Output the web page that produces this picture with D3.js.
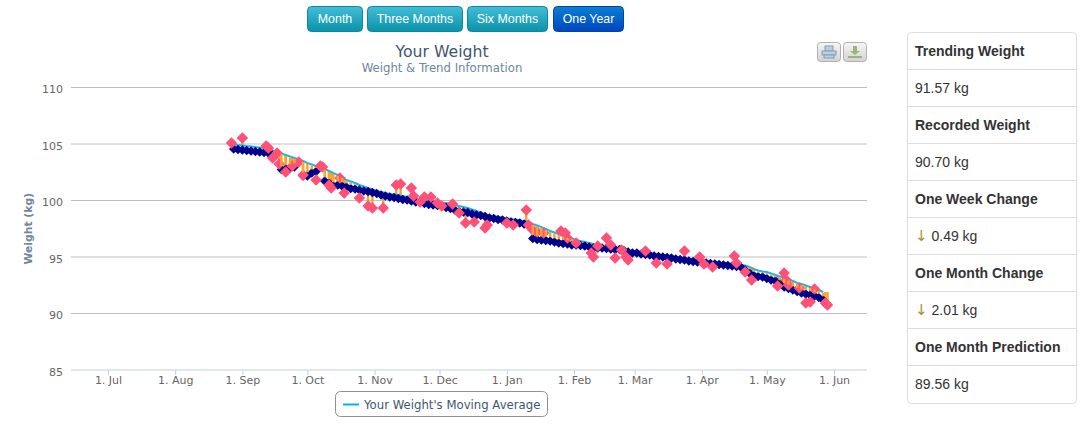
<!DOCTYPE html>
<html>
<head>
<meta charset="utf-8">
<script src="https://cdn.jsdelivr.net/npm/d3@7"></script>
<style>
    html, body { margin: 0; padding: 0; background: #fff; overflow: hidden; }
    svg { display: block; }
    .tick-text { font-family: "DejaVu Sans", sans-serif; font-size: 11px; fill: #666; }
    .panel-text { font-family: "Liberation Sans", sans-serif; font-size: 14px; fill: #333; }
    .button-text { font-family: "Liberation Sans", sans-serif; font-size: 12.4px; fill: #fff; text-anchor: middle; }
</style>
</head>
<body>
<svg class="visSVG"></svg>
<script>
const svgWidth = 1086;
const svgHeight = 429;

// the data. days are counted from 1 Jul 2012
const firstDay = new Date(Date.UTC(2012, 6, 1));
const trendDays = d3.range(58, 331, 2);

const trendValues = [
    104.56,104.51,104.47,104.42,104.38,104.34,104.29,104.25,104.20,104.03,
    null,102.74,102.79,102.88,102.96,null,102.17,102.17,102.43,102.57,
    null,101.73,101.55,101.28,101.37,101.28,101.19,101.06,101.02,100.93,
    100.84,100.80,100.71,100.62,100.49,100.40,100.31,100.27,100.18,100.09,
    100.04,99.96,99.87,99.82,99.73,99.65,99.60,99.56,99.47,99.38,
    99.29,99.16,99.03,98.98,98.94,98.81,98.72,98.67,98.58,98.45,
    98.41,98.32,98.27,98.19,98.10,98.05,98.01,97.92,97.83,96.64,
    96.55,96.50,96.46,96.42,96.33,96.24,96.19,96.15,96.06,96.06,
    96.02,95.97,95.88,95.80,95.80,95.80,95.75,95.71,95.66,95.66,
    95.58,95.44,95.35,95.35,95.27,95.22,95.18,95.09,95.04,95.00,
    94.96,94.91,94.82,94.78,94.73,94.65,94.60,94.56,94.51,94.47,
    94.42,94.38,94.34,94.29,94.25,94.20,94.16,94.12,93.85,93.58,
    93.36,93.27,93.23,93.10,92.96,92.88,92.61,92.35,92.21,92.08,
    91.95,91.81,91.73,91.64,91.55,91.42,91.19
];

const averageValues = [
    104.96,104.91,104.87,104.82,104.78,104.73,104.69,104.65,104.56,104.42,
    104.29,104.16,104.03,103.89,103.76,103.63,103.50,103.32,103.19,103.05,
    102.92,102.79,102.61,102.43,102.26,102.08,101.81,101.68,101.55,101.37,
    101.24,101.11,100.97,100.84,100.75,100.66,100.58,100.53,100.49,100.40,
    100.31,100.27,100.18,100.09,100.04,100.00,99.96,99.91,99.82,99.78,
    99.69,99.60,99.51,99.42,99.34,99.20,99.07,98.94,98.81,98.67,
    98.63,98.54,98.50,98.41,98.36,98.32,98.23,98.19,98.10,97.92,
    97.79,97.65,97.48,97.30,97.17,97.04,96.86,96.77,96.64,96.50,
    96.42,96.33,96.24,96.15,96.02,95.88,95.88,95.84,95.80,95.80,
    95.71,95.62,95.53,95.53,95.44,95.40,95.35,95.27,95.22,95.18,
    95.13,95.09,95.00,94.96,94.91,94.82,94.78,94.73,94.69,94.65,
    94.60,94.56,94.51,94.47,94.42,94.38,94.34,94.29,94.25,94.12,
    93.94,93.81,93.72,93.67,93.54,93.41,93.27,93.14,93.01,92.88,
    92.70,92.61,92.48,92.35,92.21,92.08,91.90
];

const recordedDays = [
    57,62,73,74,76,78,79,82,85,88,90,96,98,99,102,103,107,109,116,120,
    122,127,133,135,140,141,144,146,149,152,154,159,162,165,169,174,175,184,187,193,
    194,196,198,201,209,211,212,216,223,224,226,230,232,234,237,239,240,248,253,258,
    266,273,275,279,289,290,294,297,309,312,313,314,319,322,324,326,331,332
];

const recordedValues = [
    105.09,105.53,104.82,104.65,103.76,104.20,103.23,102.52,103.05,103.40,
    102.26,101.81,103.05,102.96,101.37,101.11,101.99,100.66,100.22,99.51,
    99.34,99.34,101.37,101.46,101.11,100.40,99.87,100.31,100.31,99.78,
    99.51,99.69,98.89,98.01,98.10,97.57,97.83,98.01,97.83,99.16,
    97.83,97.39,97.21,97.12,97.30,97.12,96.68,96.24,95.35,95.00,
    95.97,96.68,96.06,94.91,95.62,95.00,94.73,95.53,94.47,94.38,
    95.53,95.00,94.38,94.12,95.09,94.47,93.67,92.96,92.43,93.58,
    92.96,92.52,92.26,90.93,91.02,92.17,90.93,90.75
];

const monthTicks = [
    [2012,6],[2012,7],[2012,8],[2012,9],[2012,10],[2012,11],
    [2013,0],[2013,1],[2013,2],[2013,3],[2013,4],[2013,5]
];
const weightTicks = [85, 90, 95, 100, 105, 110];

const buttonNames = ["Month", "Three Months", "Six Months", "One Year"];
const buttonEdges = [[307,363],[367,463],[467,548],[553,624]];

const panelLabels = ["Trending Weight", "Recorded Weight", "One Week Change", "One Month Change", "One Month Prediction"];
const panelValues = ["91.57 kg", "90.70 kg", "0.49 kg", "2.01 kg", "89.56 kg"];
const panelArrows = [false, false, true, true, false];

var plot = { left: 71, right: 867, top: 87.5, bottom: 370 };
var trendWidth = 9.5; // width of a blue diamond
var recordedWidth = 11.5; // width of a pink diamond

const svg = d3.select('.visSVG')
    .attr("width", svgWidth)
    .attr("height", svgHeight);

// GRADIENTS

const defs = svg.append("defs");

function gradient(id, top, bottom) {
    var g = defs.append("linearGradient")
        .attr("id", id)
        .attr("x1", 0).attr("y1", 0).attr("x2", 0).attr("y2", 1);
    g.append("stop").attr("offset", "0%").attr("stop-color", top);
    g.append("stop").attr("offset", "100%").attr("stop-color", bottom);
}
gradient("teal", "#43bdd8", "#0a92a9");
gradient("blue", "#0a80d2", "#0044c0");
gradient("grey", "#f6f6f6", "#d2d2d2");

// SCALES

const dayToDate = function(d) { return d3.utcDay.offset(firstDay, d); };

const xScale = d3.scaleUtc()
    .domain([new Date(Date.UTC(2012, 6, 1)), new Date(Date.UTC(2013, 5, 1))])
    .range([108, 834]);

const yScale = d3.scaleLinear()
    .domain([85, 110])
    .range([plot.bottom, plot.top]);

// Y AXIS + GRID

const yAxis = svg.append("g")
    .attr("transform", "translate(" + plot.left + ",0)")
    .call(d3.axisLeft(yScale)
        .tickValues(weightTicks)
        .tickSize(-(plot.right - plot.left))
        .tickPadding(8)
        .offset(0));
yAxis.select(".domain").remove();
yAxis.selectAll("line").attr("stroke", "#c0c0c0").attr("stroke-width", 1);
yAxis.selectAll("text").attr("class", "tick-text").attr("fill", null).style("font-family", null).attr("dy", "0.5em");
yAxis.selectAll(".tick").filter(function(d) { return d === 85; }).select("line").remove();

svg.append("text")
    .text("Weight (kg)")
    .attr("transform", "translate(32," + (plot.top + plot.bottom) / 2 + ") rotate(-90)")
    .attr("text-anchor", "middle")
    .style("font-family", "DejaVu Sans, sans-serif")
    .style("font-size", "10.8px")
    .style("font-weight", "bold")
    .style("fill", "#6d869f");

// X AXIS

const xAxis = svg.append("g")
    .attr("transform", "translate(0," + plot.bottom + ")")
    .call(d3.axisBottom(xScale)
        .tickValues(monthTicks.map(function(m) { return new Date(Date.UTC(m[0], m[1], 1)); }))
        .tickFormat(d3.utcFormat("1. %b"))
        .tickSize(5)
        .tickPadding(1));
xAxis.select(".domain").remove();
xAxis.selectAll("line").attr("stroke", "#c0d0e0");
xAxis.selectAll("text").attr("class", "tick-text").attr("fill", null).style("font-family", null);

svg.append("line")
    .attr("x1", plot.left).attr("x2", plot.right)
    .attr("y1", plot.bottom).attr("y2", plot.bottom)
    .attr("stroke", "#c0d0e0");

// ORANGE RANGES TO THE RECORDED POINTS

const trendRows = trendDays.map(function(d, i) {
    return { day: d, trend: trendValues[i], average: averageValues[i] };
});

const nearestAverage = function(day) {
    var row = d3.least(trendRows, function(r) { return Math.abs(r.day - day); });
    return row.average;
};

svg.append("g")
    .attr("stroke", "#f7a52c")
    .attr("stroke-width", 2.5)
    .selectAll("line")
    .data(recordedDays)
    .enter().append("line")
        .attr("x1", function(d) { return xScale(dayToDate(d)); })
        .attr("x2", function(d) { return xScale(dayToDate(d)); })
        .attr("y1", function(d) { return yScale(nearestAverage(d)); })
        .attr("y2", function(d, i) { return yScale(recordedValues[i]); });

// MOVING AVERAGE LINE

const averageLine = d3.line()
    .x(function(r) { return xScale(dayToDate(r.day)); })
    .y(function(r) { return yScale(r.average); });

svg.append("path")
    .datum(trendRows)
    .attr("d", averageLine)
    .attr("fill", "none")
    .attr("stroke", "#22b4e6")
    .attr("stroke-width", 2);

// DIAMONDS

const diamond = function(width) {
    return d3.symbol().type(d3.symbolSquare).size(width * width / 2)();
};

svg.append("g")
    .selectAll("path")
    .data(trendRows.filter(function(r) { return r.trend !== null; }))
    .enter().append("path")
        .attr("d", diamond(trendWidth))
        .attr("fill", "#00008b")
        .attr("transform", function(r) {
            return "translate(" + xScale(dayToDate(r.day)) + "," + yScale(r.trend) + ") rotate(45)";
        });

svg.append("g")
    .selectAll("path")
    .data(recordedDays)
    .enter().append("path")
        .attr("d", diamond(recordedWidth))
        .attr("fill", "#ff5078")
        .attr("transform", function(d, i) {
            return "translate(" + xScale(dayToDate(d)) + "," + yScale(recordedValues[i]) + ") rotate(45)";
        });

// ORANGE RANGES BETWEEN AVERAGE AND TREND
// they sit just under the line and stop at the top of the blue diamond

const stripeRows = trendRows.filter(function(r) {
    return r.trend !== null && yScale(r.trend) - trendWidth / 2 + 1 > yScale(r.average) + 1;
});

svg.append("g")
    .attr("stroke", "#f7a52c")
    .attr("stroke-width", 2.5)
    .selectAll("line")
    .data(stripeRows)
    .enter().append("line")
        .attr("x1", function(r) { return xScale(dayToDate(r.day)); })
        .attr("x2", function(r) { return xScale(dayToDate(r.day)); })
        .attr("y1", function(r) { return yScale(r.average) + 1; })
        .attr("y2", function(r) { return yScale(r.trend) - trendWidth / 2 + 1; });

// TITLE

svg.append("text")
    .text("Your Weight")
    .attr("x", 442).attr("y", 57)
    .attr("text-anchor", "middle")
    .style("font-family", "DejaVu Sans, sans-serif")
    .style("font-size", "15.7px")
    .style("fill", "#3e576f");

svg.append("text")
    .text("Weight & Trend Information")
    .attr("x", 442).attr("y", 72)
    .attr("text-anchor", "middle")
    .style("font-family", "DejaVu Sans, sans-serif")
    .style("font-size", "11.7px")
    .style("fill", "#6d869f");

// BUTTONS

const buttons = svg.append("g")
    .selectAll("g")
    .data(buttonNames)
    .enter().append("g");

buttons.append("rect")
    .attr("x", function(d, i) { return buttonEdges[i][0] + 0.5; })
    .attr("y", 6.5)
    .attr("width", function(d, i) { return buttonEdges[i][1] - buttonEdges[i][0] - 1; })
    .attr("height", 25)
    .attr("rx", 4)
    .attr("fill", function(d, i) { return i === 3 ? "url(#blue)" : "url(#teal)"; })
    .attr("stroke", function(d, i) { return i === 3 ? "#0044a8" : "#0c8aa0"; });

buttons.append("text")
    .attr("class", "button-text")
    .text(function(d) { return d; })
    .attr("x", function(d, i) { return (buttonEdges[i][0] + buttonEdges[i][1]) / 2; })
    .attr("y", 23);

// EXPORT BUTTONS

const exportButton = function(x) {
    var g = svg.append("g").attr("transform", "translate(" + x + ",42)");
    g.append("rect")
        .attr("x", 0.5).attr("y", 0.5)
        .attr("width", 23).attr("height", 19)
        .attr("rx", 3)
        .attr("fill", "url(#grey)")
        .attr("stroke", "#b0b0b0");
    return g;
};

var printButton = exportButton(817);
printButton.append("rect").attr("x", 8).attr("y", 4).attr("width", 8).attr("height", 5)
    .attr("fill", "#b5d0e6").attr("stroke", "#8a9bab");
printButton.append("rect").attr("x", 5).attr("y", 9).attr("width", 14).attr("height", 4)
    .attr("fill", "#b5d0e6").attr("stroke", "#8a9bab");
printButton.append("rect").attr("x", 7).attr("y", 13).attr("width", 10).attr("height", 3)
    .attr("fill", "#b5d0e6").attr("stroke", "#8a9bab");

var saveButton = exportButton(843);
saveButton.append("path").attr("d", "M10 4h4v5h3l-5 4l-5-4h3z").attr("fill", "#9db57a");
saveButton.append("rect").attr("x", 5).attr("y", 14).attr("width", 14).attr("height", 2).attr("fill", "#9db57a");

// LEGEND

svg.append("rect")
    .attr("x", 335.5).attr("y", 391.5)
    .attr("width", 212).attr("height", 25)
    .attr("rx", 5)
    .attr("fill", "#fff")
    .attr("stroke", "#909090");

svg.append("line")
    .attr("x1", 343).attr("x2", 359)
    .attr("y1", 404.5).attr("y2", 404.5)
    .attr("stroke", "#00b4ea")
    .attr("stroke-width", 2);

svg.append("text")
    .text("Your Weight's Moving Average")
    .attr("x", 364).attr("y", 409)
    .style("font-family", "DejaVu Sans, sans-serif")
    .style("font-size", "11.7px")
    .style("fill", "#3e576f");

// SIDE PANEL

const panel = svg.append("g").attr("transform", "translate(907,32)");
var rowHeight = 37;

panel.append("rect")
    .attr("x", 0.5).attr("y", 0.5)
    .attr("width", 169).attr("height", rowHeight * 10 + 1)
    .attr("rx", 4)
    .attr("fill", "#fff")
    .attr("stroke", "#ddd");

panel.selectAll(".divider")
    .data(d3.range(1, 10))
    .enter().append("line")
        .attr("class", "divider")
        .attr("x1", 1).attr("x2", 169)
        .attr("y1", function(d) { return d * rowHeight + 0.5; })
        .attr("y2", function(d) { return d * rowHeight + 0.5; })
        .attr("stroke", "#ddd");

panelLabels.forEach(function(label, i) {
    panel.append("text")
        .attr("class", "panel-text")
        .text(label)
        .attr("x", 8)
        .attr("y", i * 2 * rowHeight + 24)
        .style("font-weight", "bold");

    var value = panel.append("text")
        .attr("class", "panel-text")
        .attr("x", 8)
        .attr("y", (i * 2 + 1) * rowHeight + 24);
    if (panelArrows[i]) {
        value.append("tspan").text("↓")
            .style("fill", "#a8912a")
            .style("font-family", "DejaVu Sans, sans-serif")
            .style("font-size", "15px");
        value.append("tspan").text(" ");
    }
    value.append("tspan").text(panelValues[i]);
});
</script>
</body>
</html>
